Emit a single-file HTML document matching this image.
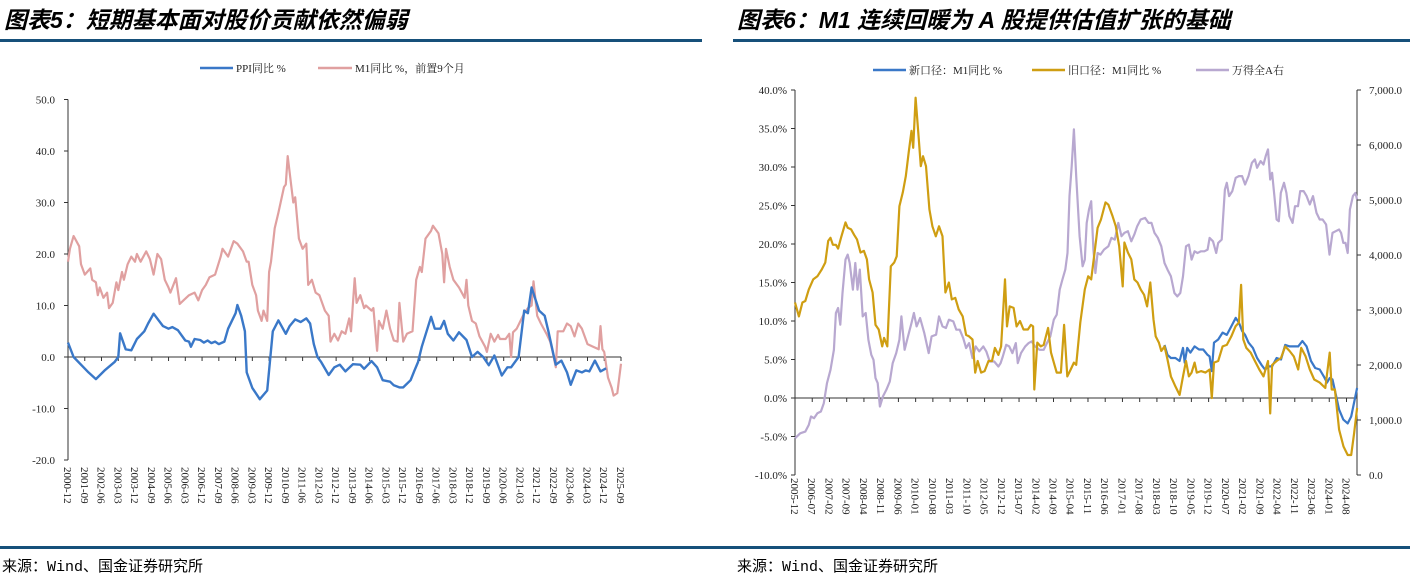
<!DOCTYPE html>
<html><head><meta charset="utf-8">
<style>
html,body{margin:0;padding:0;background:#fff;}
svg{display:block;}
.t{font-family:"Liberation Serif","Noto Serif CJK SC",serif;font-size:11px;fill:#222;}
.title{font-family:"Liberation Sans","Noto Sans CJK SC",sans-serif;font-size:23px;font-weight:bold;font-style:italic;fill:#000;}
.src{font-family:"Liberation Mono","Noto Sans CJK SC",monospace;font-size:15px;fill:#000;}
</style></head>
<body>
<svg id="svg" width="1410" height="577" xmlns="http://www.w3.org/2000/svg">
<text class="title" x="4" y="28">图表5：短期基本面对股价贡献依然偏弱</text>
<text class="title" x="737" y="28">图表6：M1 连续回暖为 A 股提供估值扩张的基础</text>
<rect x="0" y="39" width="702" height="3" fill="#16507a"/>
<rect x="733" y="39" width="677" height="3" fill="#16507a"/>
<rect x="0" y="546" width="1410" height="3" fill="#16507a"/>
<text class="src" x="2" y="571">来源：Wind、国金证券研究所</text>
<text class="src" x="737" y="571">来源：Wind、国金证券研究所</text>
<g id="c5"></g>
<g id="c6"></g>
</svg>
<script>
// ---------- Chart 5 data ----------
const c5Labels=["2000-12","2001-09","2002-06","2003-03","2003-12","2004-09","2005-06","2006-03","2006-12","2007-09","2008-06","2009-03","2009-12","2010-09","2011-06","2012-03","2012-12","2013-09","2014-06","2015-03","2015-12","2016-09","2017-06","2018-03","2018-12","2019-09","2020-06","2021-03","2021-12","2022-09","2023-06","2024-03","2024-12","2025-09"];
const c5YTicks=[50,40,30,20,10,0,-10,-20];
const ppiMonths=[0,3,11,15,20,25,27,28,31,34,37,41,43,46,51,54,56,59,63,65,66,68,71,73,75,77,79,81,84,86,90,91,93,95,96,99,103,107,110,113,117,119,122,125,128,130,132,134,136,140,143,146,149,153,157,159,163,166,169,173,175,178,180,184,186,188,190,195,197,200,202,204,207,210,214,217,220,223,226,229,233,236,238,242,245,247,249,253,256,258,261,262,265,268,270,273,276,278,280,283,286,289];
const ppiValues=[2.8,0,-3,-4.3,-2.5,-1,0,4.6,1.5,1.3,3.5,5,6.5,8.4,6,5.5,5.8,5.2,3.2,3,2,3.5,3.3,2.8,3.2,2.7,3,2.5,3,5.5,8.5,10.1,8,5,-3,-6,-8.2,-6.5,5,7.1,4.5,6,7.3,6.8,7.5,6.5,2.5,0,-1,-3.5,-2,-1.5,-2.8,-1.4,-1.5,-2.3,-0.8,-2,-4.5,-4.8,-5.5,-5.9,-5.9,-4.5,-2.7,-1,2,7.8,5.5,5.5,7,4.5,3.2,4.8,3.3,0,1,0,-1.6,0.3,-3.6,-2,-2,0,9,8.5,13.5,9,8,5,0,-1.5,-0.7,-3,-5.4,-2.6,-3,-2.6,-2.8,-0.7,-2.8,-2.2];
const m1LeadMonths=[0,1,3,6,7,9,12,13,15,16,17,19,21,22,24,26,27,29,30,32,34,36,37,39,42,44,46,48,50,52,54,55,58,60,62,65,68,70,72,74,76,79,82,83,86,89,91,94,96,97,99,101,102,104,105,107,108,109,111,113,116,117,118,120,121,122,124,126,128,129,131,133,135,138,140,141,143,145,147,149,151,152,154,155,157,159,160,163,164,166,167,169,171,173,175,177,178,180,182,185,187,189,190,192,195,196,199,201,202,203,205,207,210,213,214,215,217,219,221,224,225,227,229,231,232,235,237,238,239,241,243,245,247,249,250,252,254,257,259,260,262,263,266,268,270,272,274,276,279,282,285,286,287,288,290,292,293,295,297];
const m1LeadValues=[18.5,21,23.5,21.5,18,16,17.2,15,14.5,12,13.5,11.5,12.5,9.5,10.5,14.5,13,16.5,15,18,19.5,18.5,20,18.5,20.5,19,16,20,19,15,13.5,12.5,15.3,10.3,11,12,12.5,11,13,14,15.5,16,19.5,21,19.5,22.5,22,20.5,18.5,18.5,14,12,9,7,9,7,16.5,18.5,25,28,33,33.5,39,33,30,31,23,21,22,14,15,12.5,12,9,8,3,4.5,3.2,5,4.5,7.5,5,15.3,10.5,12,9.5,10,9,9.5,1.2,7,5.5,9,5.5,3.2,3,10.5,3,4.5,5,15,17.5,16.5,23,24.5,25.5,24,20,14.5,21,17.5,15,13.5,11.5,15,10,7,6.5,4,2,1,4.5,3,4.3,3.5,3.5,4.5,0,4.8,5.5,7,8.5,9.5,10,14.7,8,6.5,4.5,3,1.5,-2,5,5,6.5,6,4,6.5,5.5,2.5,2,1.5,6,1.5,1,-4,-6,-7.5,-7,-1.3];

// ---------- Chart 6 data ----------
const c6Labels=["2005-12","2006-07","2007-02","2007-09","2008-04","2008-11","2009-06","2010-01","2010-08","2011-03","2011-10","2012-05","2012-12","2013-07","2014-02","2014-09","2015-04","2015-11","2016-06","2017-01","2017-08","2018-03","2018-10","2019-05","2019-12","2020-07","2021-02","2021-09","2022-04","2022-11","2023-06","2024-01","2024-08"];
const c6LeftTicks=[40,35,30,25,20,15,10,5,0,-5,-10];
const c6RightTicks=[7000,6000,5000,4000,3000,2000,1000,0];
const oldM1Months=[0,1.6,3,4.2,5.6,7.4,9.1,10.9,12.3,13.5,14.4,15.4,16.6,17.5,18.7,20.5,21.4,22.8,24,25.2,26.6,28,29.2,30.1,31.5,32.7,34,35.4,36.2,37.5,38.9,40.3,41.3,42.4,43.8,45,46.2,47.3,48,49,50.3,51.1,52,53.2,54.6,55.8,57.2,58.5,59.9,61.1,62.5,63.7,65.1,66.5,68.1,69.5,70.7,72.1,73.2,74.2,75.6,77,78.6,80,81.2,82.6,83.7,85.3,86.1,87.2,88.8,90,91.4,92.8,94.6,95.8,96.7,97.2,98.4,99.8,101,102.8,104,105.4,106.3,108,109.3,110.6,112,113.3,114.2,115.9,117.7,119.1,120.3,121.5,122.9,124.3,126.1,127.3,129,130.3,131.7,133.1,133.8,135.2,136.6,137.8,139.1,140.4,141.8,143,144.3,145.6,146.5,147.8,148.8,150.1,151.3,152.7,154.5,156.2,157.6,158.8,160,161.1,162.3,163.2,164.9,166.7,168.4,169.3,170.2,171.9,173.7,175.4,177.2,178.9,180.3,181.2,182.1,183.3,185.1,186.8,188.6,190.3,192.1,193,193.8,195.6,197.4,199.1,200.9,202.6,204.4,205.6,207.4,209.1,210.9,213.1,215.4,217.2,218,219.3,221,222.8,224.5,225.9,227.1,228.3];
const oldM1Values=[12.4,10.6,12.4,12.6,14.1,15.4,15.8,16.7,17.6,20.4,20.8,19.9,19.9,19.4,20.8,22.8,22.1,21.9,21.2,20.6,18.9,19.1,18,15.4,13.7,9.5,8.9,6.7,7.8,6.7,17.1,17.6,18.4,24.9,26.7,28.8,31.9,34.7,32.5,39,33.6,30.1,31.4,30.1,24.5,22.3,21,22.3,21,13.7,15,12.8,13,11.5,10.6,8.2,8,7.6,3.3,4.8,3.3,3.5,4.8,4.8,6.5,5.6,6.7,15.4,9.3,11.9,11.7,9.3,10,8.9,8.9,9.5,9.3,1.1,7.2,6.7,6.9,9.1,5.9,4.3,3.3,3.3,9.5,2.8,3.7,4.6,4.3,9.8,14.1,15.8,15.4,18.4,22.1,23.2,25.4,25.1,23.6,22.3,19.7,14.5,20.2,18.9,18,15.4,15,14.1,13.4,11.9,15,10.2,8,7.2,6.1,6.7,5,2.8,1.5,0.4,2.8,4.8,2.8,3.3,4.6,3.3,3.5,3.3,3.7,0,4.6,4.8,6.7,6.9,8,9.3,9.8,14.7,7.6,6.5,5.9,4.8,3.7,2.8,4.8,-2,4.3,4.8,5.2,6.7,6.1,5.4,3.7,6.5,5.4,3.7,2.4,2,1.3,5.9,1.1,1.1,-4.1,-6.3,-7.4,-7.4,-4.6,-1.3];
const newM1Months=[150.1,151.3,152.7,154.5,156.2,157.6,158.3,159.3,160.6,162.3,164.1,165.8,167.6,168.4,169.3,170.2,171.9,173.7,175.4,177.2,179,180.3,181.6,182.8,184.2,186,187.7,189.5,190.9,192.6,193.8,195.6,197.4,199.1,200.9,202.6,204.4,206.1,207.8,209.6,211.3,213.1,214.8,216.1,217.2,218.3,219.2,221,222.7,224.5,225.9,228.3];
const newM1Values=[6.9,5.6,5.2,5.2,4.8,6.5,4.6,6.5,5.9,6.7,6.3,6.3,5.6,5.4,3.5,7.2,7.6,8.5,8.2,9.3,10.4,9.8,8.7,8.2,7.2,6.5,5.2,4.3,3.7,4.1,4.1,5.2,5,6.9,6.7,6.7,6.7,7.4,6.7,4.8,3.9,3.7,2.8,2,2.6,2.4,1.1,-1.5,-2.8,-3.3,-2.4,1.3];
const windAMonths=[0,2.1,4.2,5.6,6.5,7.7,9.1,10.5,11.7,13,14.4,15.8,16.6,17.5,18.4,19.3,20.5,21.4,22.2,23.5,24.5,25.4,26.3,27.5,28.7,29.8,31,31.9,32.7,33.6,34.5,35.7,37.1,38.5,39.7,41.1,42.4,43.2,44.5,45.9,47.3,48.3,49.4,50.8,52.5,54.3,55.5,57.3,58.5,59.9,61.3,62.5,64.3,65.5,66.9,68.3,69.5,70.7,72.1,73.4,74.8,76.5,77.7,79.1,80.9,82.6,83.5,84.4,85.8,87,88.3,89.7,90.5,91.8,93.5,94.9,96.1,97.5,99.3,101,102.3,103.7,105.1,106.3,107.5,108.6,109.8,110.7,111.5,112.4,113.3,114.2,115.6,116.8,117.7,118.5,119.4,120.3,121.2,122,122.9,124.1,125.5,127.3,128.5,129.9,131.3,132.6,133.8,135.2,136.6,137.8,139,140.4,142.2,143.6,144.8,146,147.4,148.8,150.1,151.3,152.7,154.1,155.3,156.5,157.6,158.8,160,161.1,162.3,163.5,164.9,166.3,167.6,168.4,169.8,171.1,171.9,173.3,174.6,175.4,176.3,177.6,179,180.3,181.6,182.8,184.2,185.6,186.8,187.7,189.1,190.3,191.2,192.1,193,193.8,194.7,195.6,196.5,197.3,198.6,199.6,200.8,202.1,203.1,204.3,205.2,206.6,207.8,209.1,210.4,211.8,213.1,214.3,215.7,217.1,218.3,219.6,221,221.8,222.7,223.6,224.5,225.4,226.6,227.6,228.3];
const windAValues=[668,759,789,911,1063,1032,1123,1154,1305,1670,1913,2277,2945,3036,2732,3309,3916,4007,3855,3370,3855,3370,3734,2884,2945,2459,2186,2095,1761,1670,1245,1427,1548,1700,2034,2216,2459,2884,2277,2520,2763,2945,2702,2854,2580,2216,2520,2551,2884,2702,2672,2824,2793,2641,2641,2489,2307,2398,2125,2338,2247,2338,2247,2064,2064,1973,2034,2155,2368,2338,2216,2398,2034,2216,2338,2398,2429,2338,2277,2277,2398,2520,2824,2915,3370,3552,3734,4037,5070,5616,6284,5434,4341,3795,3916,4584,4827,4979,4098,3673,4037,4007,4098,4159,4311,4280,4584,4341,4402,4432,4250,4371,4523,4645,4675,4584,4584,4402,4311,4159,3855,3734,3613,3309,3248,3309,3613,4159,4189,3916,4068,4037,4068,4068,4098,4311,4250,4037,4220,4280,5191,5313,5070,5161,5404,5434,5434,5282,5434,5677,5738,5586,5707,5646,5798,5920,5373,5495,5070,4645,4614,5130,5313,5130,4705,4584,4888,4888,5161,5161,5070,4918,5070,4766,4645,4645,4554,4007,4402,4432,4463,4402,4220,4220,4037,4827,5070,5130,5009];

const NS="http://www.w3.org/2000/svg";
function mk(parent,tag,attrs){const e=document.createElementNS(NS,tag);for(const k in attrs)e.setAttribute(k,attrs[k]);parent.appendChild(e);return e;}
function monthIndex(lbl,y0,m0){const p=lbl.split("-");return (+p[0]-y0)*12+(+p[1]-m0);}
function pathFrom(ms,vs,fx,fy){let d="";for(let i=0;i<ms.length;i++){d+=(i?"L":"M")+fx(ms[i]).toFixed(1)+","+fy(vs[i]).toFixed(1);}return d;}

// ---------- Chart 5 ----------
(function(){
const g=document.getElementById("c5");
const X0=68,X1=621,Y0=357,PX=5.15;
const fx=m=>X0+m*(X1-X0)/297;
const fy=v=>Y0-v*PX;
const yAxis=mk(g,"line",{x1:X0,y1:fy(50),x2:X0,y2:fy(-20),stroke:"#333","stroke-width":1});


c5YTicks.forEach(v=>{
  const tk=mk(g,"line",{x1:X0-4,y1:fy(v),x2:X0,y2:fy(v),stroke:"#333"});
  
  
  const t=mk(g,"text",{x:X0-13,y:fy(v)+4,"text-anchor":"end",class:"t"});
  t.textContent=v.toFixed(1);
  
  
});
const zl=mk(g,"line",{x1:X0,y1:Y0,x2:X1,y2:Y0,stroke:"#333","stroke-width":1});


c5Labels.forEach(l=>{
  const x=fx(monthIndex(l,2000,12));
  const tk=mk(g,"line",{x1:x,y1:Y0,x2:x,y2:Y0+4,stroke:"#333"});
  
  
  const t=mk(g,"text",{x:0,y:0,class:"t",transform:"translate("+(x-4)+",467) rotate(90)"});
  t.textContent=l;
  
  
});
const m1=mk(g,"path",{d:pathFrom(m1LeadMonths,m1LeadValues,fx,fy),fill:"none",stroke:"#e0a0a0","stroke-width":2.2,"stroke-linejoin":"round"});


const ppi=mk(g,"path",{d:pathFrom(ppiMonths,ppiValues,fx,fy),fill:"none",stroke:"#3a78c8","stroke-width":2.4,"stroke-linejoin":"round"});


// legend
const l1=mk(g,"line",{x1:200,y1:68,x2:233,y2:68,stroke:"#3a78c8","stroke-width":2.5});


const t1=mk(g,"text",{x:236,y:72,class:"t"});t1.textContent="PPI同比 %";


const l2=mk(g,"line",{x1:318,y1:68,x2:352,y2:68,stroke:"#e0a0a0","stroke-width":2.5});


const t2=mk(g,"text",{x:355,y:72,class:"t"});t2.textContent="M1同比 %，前置9个月";


})();

// ---------- Chart 6 ----------
(function(){
const g=document.getElementById("c6");
const X0=795,X1=1357,Y0=398,PX=7.7,TOP=90,BOT=475;
const fx=m=>X0+m*2.462;
const fy=v=>Y0-v*PX;
const fyR=v=>BOT-v*(BOT-TOP)/7000;
const ya=mk(g,"line",{x1:X0,y1:TOP,x2:X0,y2:BOT,stroke:"#333"});


const yb=mk(g,"line",{x1:X1,y1:TOP,x2:X1,y2:BOT,stroke:"#333"});


c6LeftTicks.forEach(v=>{
  const tk=mk(g,"line",{x1:X0-4,y1:fy(v),x2:X0,y2:fy(v),stroke:"#333"});
  
  
  const t=mk(g,"text",{x:X0-8,y:fy(v)+4,"text-anchor":"end",class:"t"});
  t.textContent=v.toFixed(1)+"%";
  
  
});
c6RightTicks.forEach(v=>{
  const tk=mk(g,"line",{x1:X1,y1:fyR(v),x2:X1+4,y2:fyR(v),stroke:"#333"});
  
  
  const t=mk(g,"text",{x:X1+12,y:fyR(v)+4,class:"t"});
  t.textContent=v.toLocaleString("en-US")+".0";
  
  
});
const zl=mk(g,"line",{x1:X0,y1:Y0,x2:X1,y2:Y0,stroke:"#333"});


c6Labels.forEach(l=>{
  const x=fx(monthIndex(l,2005,12));
  const tk=mk(g,"line",{x1:x,y1:Y0,x2:x,y2:Y0+4,stroke:"#333"});
  
  
  const t=mk(g,"text",{x:0,y:0,class:"t",transform:"translate("+(x-4)+",478) rotate(90)"});
  t.textContent=l;
  
  
});
const wa=mk(g,"path",{d:pathFrom(windAMonths,windAValues,fx,fyR),fill:"none",stroke:"#b8a8d0","stroke-width":2.2,"stroke-linejoin":"round"});


const nm=mk(g,"path",{d:pathFrom(newM1Months,newM1Values,fx,fy),fill:"none",stroke:"#3a78c8","stroke-width":2.2,"stroke-linejoin":"round"});


const om=mk(g,"path",{d:pathFrom(oldM1Months,oldM1Values,fx,fy),fill:"none",stroke:"#cf9e12","stroke-width":2.2,"stroke-linejoin":"round"});


const leg=[["新口径：M1同比 %","#3a78c8",873,"legend-new-m1"],["旧口径：M1同比 %","#cf9e12",1032,"legend-old-m1"],["万得全A右","#b8a8d0",1196,"legend-wind-all-a"]];
leg.forEach(e=>{
  const ln=mk(g,"line",{x1:e[2],y1:70,x2:e[2]+33,y2:70,stroke:e[1],"stroke-width":2.5});
  
  
  const t=mk(g,"text",{x:e[2]+36,y:74,class:"t"});t.textContent=e[0];
  
  
});
})();
</script>
</body></html>
